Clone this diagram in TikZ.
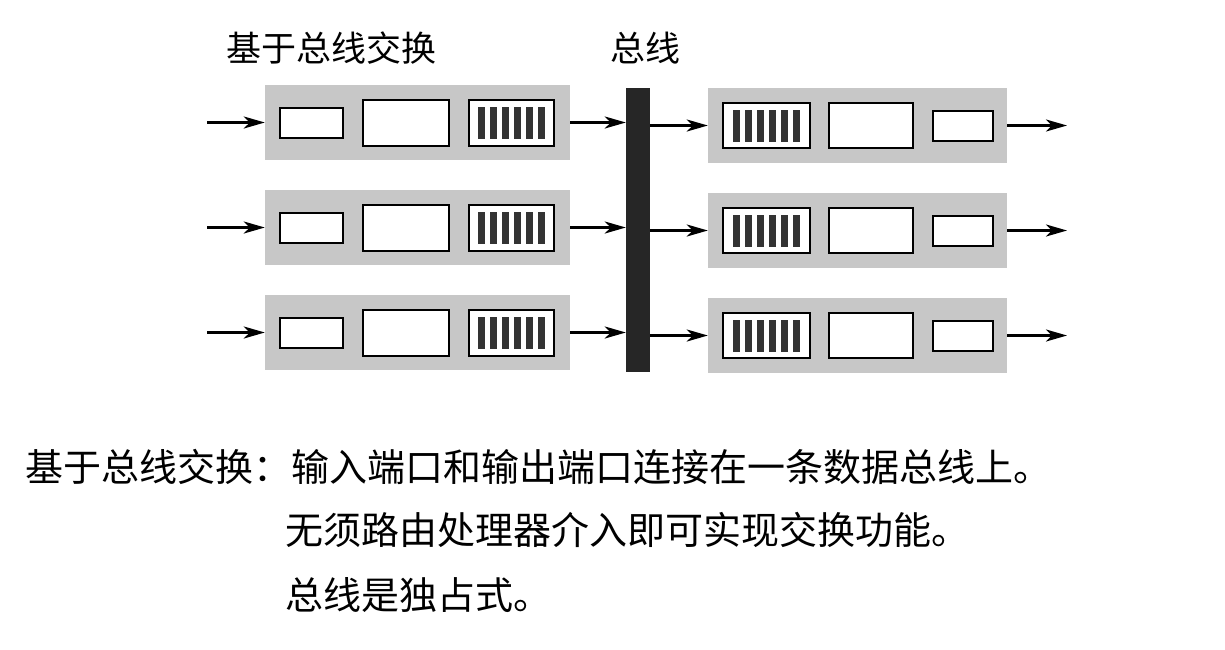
\documentclass[tikz,border=0pt]{standalone}
\usepackage{fontspec}
\setmainfont{Noto Sans CJK SC}
\usetikzlibrary{arrows.meta,calc}
\begin{document}
\begin{tikzpicture}[x=1pt,y=-1pt,
  graybg/.style={fill=black!22, draw=none, inner sep=0pt, minimum height=75pt},
  wbox/.style={draw=black, line width=2pt, fill=white, inner sep=0pt},
  barf/.style={fill=black!80, draw=none, inner sep=0pt, minimum width=7pt, minimum height=32pt},
  arr/.style={line width=2.6pt, -{Stealth[length=21pt,width=12pt,inset=6pt]}},
  lbl/.style={font=\fontsize{35pt}{38pt}\selectfont, inner sep=0pt},
  txt/.style={font=\fontsize{38pt}{42pt}\selectfont, inner sep=0pt, anchor=west}
]
\useasboundingbox[fill=white] (0,0) rectangle (1225,649);

% bus
\node[fill=black!85, draw=none, minimum width=24pt, minimum height=284pt, inner sep=0pt] (bus) at (638,230) {};
\node[lbl] (buslbl) at (645,48) {总线};
\node[lbl] (title) at (331,48) {基于总线交换};

\foreach \r/\yl/\yr in {1/122.5/125.5, 2/227.5/230.5, 3/332.5/335.5} {
  % left (input) side
  \node[graybg, minimum width=305pt] (L\r) at (417.5,\yl) {};
  \node[wbox, minimum width=63pt, minimum height=30pt] (Ls\r) at (311.5,\yl) {};
  \node[wbox, minimum width=86pt, minimum height=46pt] (Lm\r) at (406,\yl) {};
  \node[wbox, minimum width=85pt, minimum height=46pt] (Lb\r) at (511.5,\yl) {};
  \foreach \k in {-30,-18,-6,6,18,30} {
    \node[barf] at ($(Lb\r)+(\k,0)$) {};
  }
  \coordinate (in\r) at (207,\yl);
  \draw[arr] (in\r) -- (L\r.west);
  \draw[arr] (L\r.east) -- (L\r.east -| bus.west);
  % right (output) side
  \node[graybg, minimum width=299pt] (R\r) at (857.5,\yr) {};
  \node[wbox, minimum width=87pt, minimum height=45pt] (Rb\r) at (766.5,\yr) {};
  \node[wbox, minimum width=84pt, minimum height=45pt] (Rm\r) at (871,\yr) {};
  \node[wbox, minimum width=60pt, minimum height=30pt] (Rs\r) at (963,\yr) {};
  \foreach \k in {-30,-18,-6,6,18,30} {
    \node[barf] at ($(Rb\r)+(\k,0)$) {};
  }
  \draw[arr] (bus.east |- R\r.west) -- (R\r.west);
  \coordinate (out\r) at (1067,\yr);
  \draw[arr] (R\r.east) -- (out\r);
}

\node[txt] (t1) at (25,467) {基于总线交换：输入端口和输出端口连接在一条数据总线上。};
\node[txt] (t2) at (285,530) {无须路由处理器介入即可实现交换功能。};
\node[txt] (t3) at (285,595) {总线是独占式。};
\end{tikzpicture}
\end{document}
